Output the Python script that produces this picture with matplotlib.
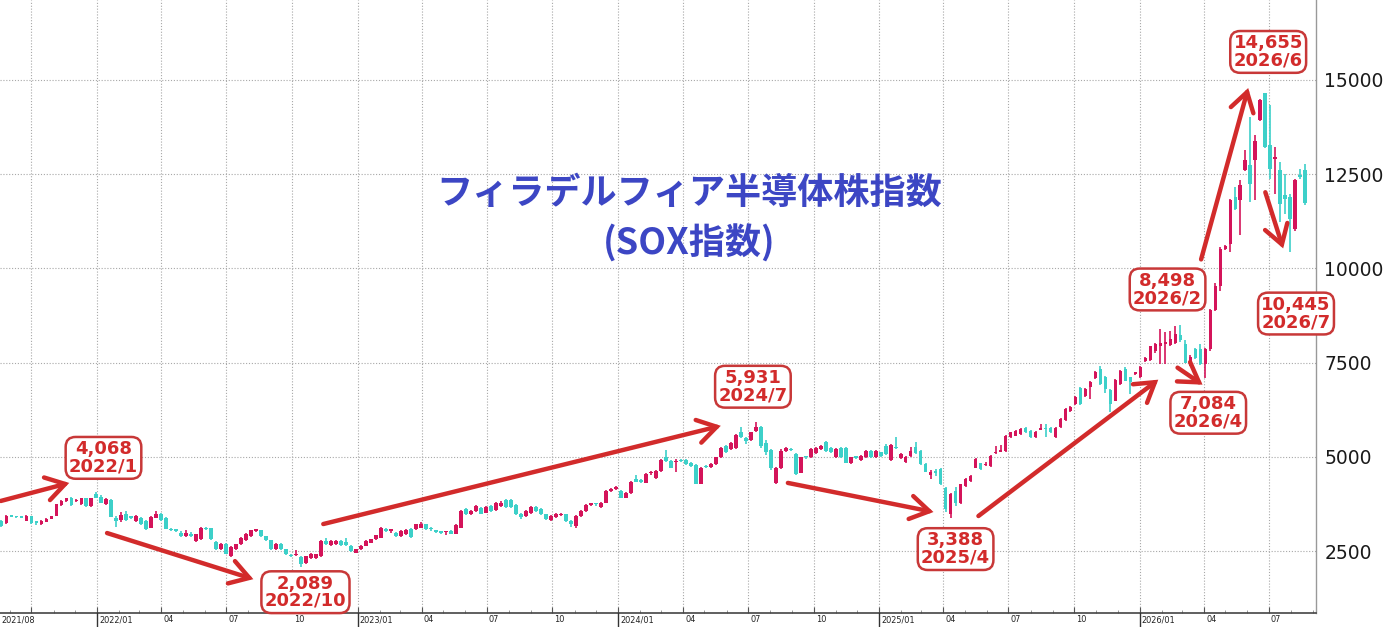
import matplotlib
matplotlib.use('Agg')
import matplotlib.pyplot as plt
import matplotlib.dates as mdates
import numpy as np
import pandas as pd
from matplotlib.patches import FancyArrowPatch
from matplotlib.transforms import blended_transform_factory, ScaledTranslation

# ---------------- data (weekly candles, SOX index) ----------------
first_week = '2021-08-20'
opens = [3300, 3250, 3420, 3410, 3400, 3300, 3430, 3260, 3210, 3280,
         3360, 3430, 3725, 3820, 3900, 3820, 3740, 3900, 3696, 4007,
         3930, 3740, 3856, 3386, 3315, 3474, 3390, 3297, 3386, 3297,
         3120, 3386, 3474, 3386, 3060, 3040, 2987, 2898, 2960, 2765,
         2809, 3090, 3102, 2738, 2561, 2694, 2366, 2543, 2676, 2783,
         2898, 3040, 3049, 2898, 2783, 2543, 2694, 2543, 2380, 2390,
         2339, 2188, 2321, 2304, 2366, 2765, 2658, 2676, 2765, 2738,
         2632, 2454, 2543, 2632, 2720, 2809, 2853, 3040, 3031, 2987,
         2898, 2942, 3075, 3075, 3120, 3208, 3090, 3030, 3010, 3000,
         3031, 2960, 3120, 3607, 3474, 3563, 3652, 3519, 3696, 3581,
         3696, 3850, 3850, 3723, 3492, 3430, 3510, 3670, 3607, 3474,
         3315, 3403, 3450, 3474, 3297, 3164, 3430, 3563, 3730, 3740,
         3670, 3785, 4100, 4150, 4095, 3918, 4033, 4420, 4370, 4317,
         4560, 4450, 4627, 4982, 4894, 4850, 4900, 4911, 4849, 4780,
         4290, 4740, 4734, 4805, 4982, 5293, 5204, 5231, 5648, 5500,
         5443, 5692, 5800, 5373, 5186, 4316, 4707, 5160, 5200, 5080,
         4583, 4990, 4982, 5089, 5204, 5381, 5231, 4982, 5231, 5231,
         4823, 4990, 4911, 4982, 5160, 4982, 5115, 5293, 4911, 5250,
         4960, 4850, 5027, 5250, 5160, 4805, 4521, 4600, 4672, 4184,
         3474, 4095, 3785, 4228, 4361, 4716, 4823, 4780, 4761, 5100,
         5140, 5160, 5514, 5559, 5603, 5754, 5692, 5532, 5720, 5740,
         5763, 5514, 5781, 5976, 6224, 6401, 6827, 6623, 6845, 7093,
         7333, 7129, 6774, 6490, 6934, 7333, 7111, 7200, 7111, 7537,
         7570, 7800, 7930, 8000, 7960, 8010, 8220, 8000, 7420, 7850,
         7850, 7470, 7850, 8885, 9545, 10521, 10654, 11896, 11807, 12605,
         12738, 12870, 13936, 14645, 13270, 12900, 12605, 11940, 11896, 11053,
         12470, 12623]
highs = [3330, 3450, 3450, 3440, 3430, 3450, 3440, 3290, 3310, 3370,
         3440, 3760, 3860, 3920, 3930, 3870, 3920, 3920, 3920, 4068,
         3990, 3900, 3870, 3420, 3530, 3560, 3420, 3450, 3400, 3310,
         3420, 3560, 3500, 3400, 3120, 3070, 3040, 3070, 3000, 2960,
         3140, 3130, 3110, 2760, 2710, 2720, 2620, 2690, 2870, 2970,
         3060, 3070, 3070, 2910, 2800, 2710, 2710, 2560, 2420, 2540,
         2360, 2380, 2440, 2420, 2790, 2840, 2800, 2790, 2800, 2850,
         2650, 2560, 2650, 2780, 2830, 2930, 3130, 3100, 3070, 3010,
         3060, 3080, 3100, 3230, 3280, 3230, 3130, 3060, 3030, 3040,
         3050, 3210, 3590, 3640, 3590, 3720, 3680, 3700, 3720, 3800,
         3820, 3880, 3870, 3740, 3510, 3580, 3690, 3690, 3630, 3490,
         3450, 3500, 3520, 3490, 3310, 3450, 3580, 3740, 3780, 3770,
         3800, 4120, 4180, 4230, 4120, 4070, 4360, 4520, 4400, 4560,
         4620, 4650, 4940, 5180, 4910, 4940, 4940, 4940, 4870, 4800,
         4740, 4770, 4830, 5000, 5250, 5320, 5380, 5610, 5781, 5530,
         5670, 5931, 5830, 5450, 5200, 4720, 5200, 5260, 5230, 5090,
         5000, 5030, 5240, 5260, 5320, 5426, 5250, 5230, 5250, 5260,
         5000, 5020, 5050, 5180, 5180, 5180, 5140, 5330, 5330, 5514,
         5110, 5010, 5250, 5381, 5180, 4830, 4640, 4680, 4700, 4200,
         4050, 4200, 4290, 4440, 4520, 4960, 4840, 4850, 5050, 5293,
         5320, 5580, 5670, 5720, 5760, 5780, 5710, 5690, 5870, 5870,
         5790, 5780, 6030, 6290, 6360, 6620, 6850, 6830, 7020, 7270,
         7400, 7150, 6800, 7060, 7310, 7380, 7130, 7260, 7400, 7650,
         7940, 8030, 8380, 8300, 8350, 8470, 8498, 8110, 7700, 7880,
         8000, 7900, 8920, 9620, 10560, 10620, 11850, 12162, 12339, 13137,
         14007, 13536, 14500, 14655, 14335, 13226, 12827, 12516, 11980, 12383,
         12649, 12783]
lows = [3140, 3230, 3390, 3380, 3370, 3290, 3230, 3200, 3190, 3260,
        3340, 3420, 3700, 3800, 3700, 3790, 3720, 3680, 3680, 3900,
        3770, 3720, 3390, 3137, 3280, 3300, 3350, 3280, 3190, 3050,
        3100, 3370, 3300, 3080, 3020, 3000, 2880, 2880, 2880, 2740,
        2790, 3060, 2790, 2530, 2540, 2410, 2340, 2530, 2660, 2760,
        2880, 3000, 2880, 2770, 2530, 2530, 2530, 2400, 2340, 2370,
        2089, 2150, 2300, 2290, 2350, 2660, 2640, 2660, 2640, 2640,
        2480, 2440, 2530, 2620, 2700, 2790, 2840, 3000, 2990, 2880,
        2880, 2920, 2850, 3060, 3100, 3050, 3040, 2980, 2950, 2930,
        2940, 2940, 3100, 3450, 3450, 3540, 3470, 3500, 3540, 3560,
        3680, 3650, 3650, 3450, 3340, 3410, 3490, 3540, 3450, 3320,
        3290, 3380, 3420, 3280, 3150, 3120, 3410, 3540, 3700, 3700,
        3650, 3770, 4070, 4120, 3900, 3900, 4010, 4320, 4300, 4300,
        4520, 4420, 4600, 4870, 4700, 4610, 4850, 4790, 4720, 4270,
        4270, 4690, 4710, 4790, 4960, 5090, 5180, 5210, 5490, 5340,
        5420, 5660, 5240, 5040, 4640, 4290, 4680, 5140, 5150, 4520,
        4560, 4950, 4960, 5070, 5180, 5140, 5090, 4960, 4960, 4830,
        4800, 4940, 4890, 4960, 4960, 4960, 5000, 5050, 4890, 5200,
        4930, 4830, 5000, 5080, 4780, 4590, 4420, 4500, 4250, 3540,
        3388, 3700, 3760, 4200, 4340, 4690, 4650, 4760, 4740, 5080,
        5120, 5140, 5490, 5540, 5580, 5620, 5490, 5510, 5700, 5520,
        5620, 5490, 5760, 5950, 6200, 6380, 6380, 6600, 6535, 7070,
        6900, 6700, 6180, 6470, 6910, 7000, 6668, 7180, 7090, 7510,
        7540, 7760, 7450, 7450, 7940, 7990, 8060, 7480, 7400, 7600,
        7440, 7084, 7820, 8860, 9400, 10480, 10432, 11550, 10875, 12580,
        11762, 11807, 13900, 13200, 12383, 11984, 11230, 11452, 10445, 11000,
        12380, 11674]
closes = [3165, 3430, 3405, 3400, 3385, 3430, 3253, 3245, 3297, 3360,
          3430, 3740, 3830, 3900, 3714, 3835, 3900, 3696, 3900, 3918,
          3785, 3890, 3403, 3297, 3448, 3324, 3380, 3430, 3208, 3075,
          3403, 3492, 3324, 3093, 3049, 3031, 2898, 2987, 2898, 2942,
          3102, 3075, 2809, 2543, 2694, 2428, 2605, 2676, 2853, 2942,
          3049, 3049, 2898, 2783, 2543, 2694, 2543, 2410, 2366, 2410,
          2144, 2366, 2428, 2410, 2765, 2676, 2765, 2765, 2658, 2658,
          2499, 2543, 2632, 2765, 2809, 2924, 3120, 3031, 3040, 2898,
          3031, 3049, 2871, 3208, 3226, 3075, 3075, 3013, 2987, 3013,
          2960, 3190, 3563, 3474, 3563, 3696, 3492, 3670, 3563, 3785,
          3785, 3670, 3670, 3474, 3403, 3563, 3670, 3563, 3474, 3341,
          3430, 3474, 3465, 3297, 3208, 3430, 3563, 3723, 3740, 3735,
          3785, 4095, 4140, 4184, 3918, 4051, 4344, 4340, 4340, 4539,
          4583, 4627, 4911, 4894, 4716, 4890, 4880, 4805, 4761, 4290,
          4716, 4720, 4805, 4982, 5231, 5115, 5355, 5585, 5514, 5426,
          5648, 5800, 5280, 5115, 4707, 4699, 5160, 5231, 5177, 4550,
          4982, 4982, 5204, 5231, 5293, 5160, 5115, 5204, 4982, 4849,
          4982, 4970, 5027, 5160, 4982, 5160, 5027, 5071, 5310, 5230,
          5071, 4990, 5160, 5100, 4805, 4610, 4610, 4583, 4273, 3607,
          4007, 3785, 4273, 4406, 4494, 4938, 4672, 4805, 5027, 5120,
          5160, 5559, 5647, 5692, 5736, 5647, 5514, 5665, 5740, 5730,
          5647, 5754, 6002, 6268, 6330, 6597, 6401, 6801, 6996, 7244,
          6934, 6801, 6401, 7040, 7288, 7022, 6990, 7230, 7377, 7625,
          7930, 8000, 8010, 8040, 8130, 8264, 8090, 7500, 7660, 7630,
          7470, 7850, 8885, 9545, 10521, 10584, 11807, 11585, 12206, 12870,
          12233, 13377, 14468, 13226, 12650, 12960, 11718, 11851, 11319, 12339,
          12428, 11736]

y_ticks = [2500, 5000, 7500, 10000, 12500, 15000]
quarter_ticks = ['2021-10-01', '2022-01-01', '2022-04-01', '2022-07-01', '2022-10-01',
                 '2023-01-01', '2023-04-01', '2023-07-01', '2023-10-01',
                 '2024-01-01', '2024-04-01', '2024-07-01', '2024-10-01',
                 '2025-01-01', '2025-04-01', '2025-07-01', '2025-10-01',
                 '2026-01-01', '2026-04-01', '2026-07-01']
quarter_labels = ['', '2022/01', '04', '07', '10', '2023/01', '04', '07', '10',
                  '2024/01', '04', '07', '10', '2025/01', '04', '07', '10',
                  '2026/01', '04', '07']
year_starts = ['2022-01-01', '2023-01-01', '2024-01-01', '2025-01-01', '2026-01-01']
first_label = '2021/08'

title_text = 'フィラデルフィア半導体株指数\n(SOX指数)'

# callout boxes: (date, value, text)
box_dates = ['2022-01-10', '2022-10-20', '2024-07-08', '2025-04-18',
             '2026-02-09', '2026-04-07', '2026-06-30', '2026-08-08']
box_values = [4972, 1407, 6860, 2551, 9441, 6169, 15745, 8802]
box_texts = ['4,068\n2022/1', '2,089\n2022/10', '5,931\n2024/7', '3,388\n2025/4',
             '8,498\n2026/2', '7,084\n2026/4', '14,655\n2026/6', '10,445\n2026/7']

# arrows: tail (date, value) -> head (date, value)
arrow_tail_dates = ['2021-08-19', '2022-01-15', '2022-11-14', '2024-08-26',
                    '2025-05-20', '2026-02-23', '2026-03-28', '2026-06-26']
arrow_tail_values = [3828, 2977, 3216, 4307, 3429, 7366, 10239, 12021]
arrow_head_dates = ['2021-11-23', '2022-08-08', '2024-05-24', '2025-03-18',
                    '2026-01-27', '2026-03-30', '2026-06-02', '2026-07-21']
arrow_head_values = [4307, 1753, 5823, 3535, 7047, 6914, 14787, 10531]

# ---------------- styling ----------------
UP = '#D4145A'
DOWN = '#3DD0C9'
RED = '#D22B2B'
BOX_RED = '#C83838'
TITLE_BLUE = '#3C46C4'
GRID = '#A8A8A8'

W, H = 1386, 627
fig = plt.figure(figsize=(W / 100, H / 100), dpi=100)
ax_bottom = (H - 613) / H
ax = fig.add_axes([0, ax_bottom, 1316 / W, 1 - ax_bottom])

dates = pd.date_range(first_week, periods=len(closes), freq='7D')
xd = mdates.date2num(dates)
o = np.array(opens, float)
h = np.array(highs, float)
l = np.array(lows, float)
c = np.array(closes, float)
up = c >= o
cols = np.where(up, UP, DOWN)

ax.vlines(xd, l, h, colors=cols, linewidth=1.2, zorder=3)
body_lo = np.minimum(o, c)
body_h = np.maximum(np.abs(c - o), 40)
ax.bar(xd, body_h, bottom=body_lo, width=5.2, color=cols, linewidth=0, zorder=4)

ax.set_xlim(mdates.date2num(pd.Timestamp('2021-08-18')),
            mdates.date2num(pd.Timestamp('2026-09-05')))
ax.set_ylim(855, 17123)

# grid
ax.set_yticks(y_ticks)
ax.set_xticks(mdates.date2num(pd.to_datetime(quarter_ticks)))
ax.set_xticklabels(quarter_labels)
ax.xaxis.set_minor_locator(mdates.MonthLocator())
ax.grid(True, which='major', color=GRID, linestyle=(0, (1, 1.6)), linewidth=0.8)
ax.set_axisbelow(True)

ax.yaxis.tick_right()
ax.tick_params(axis='y', which='both', length=0, pad=6, labelsize=13.5, labelcolor='#1a1a1a')
ax.tick_params(axis='x', which='major', direction='in', length=4, pad=1.5,
               labelsize=5.9, labelcolor='#222222', color='#555555')
ax.tick_params(axis='x', which='minor', direction='in', length=2.5, color='#888888')
offset = ScaledTranslation(1.5 / 72, 0, fig.dpi_scale_trans)
for lab in ax.get_xticklabels():
    lab.set_horizontalalignment('left')
    lab.set_transform(lab.get_transform() + offset)

for s in ['top', 'left']:
    ax.spines[s].set_visible(False)
ax.spines['right'].set_color('#999999')
ax.spines['right'].set_linewidth(1.0)
ax.spines['bottom'].set_color('#444444')
ax.spines['bottom'].set_linewidth(1.2)

btrans = blended_transform_factory(ax.transData, ax.transAxes)
for ys in year_starts:
    xv = mdates.date2num(pd.Timestamp(ys))
    ax.plot([xv, xv], [0, -0.025], transform=btrans, color='#333333',
            linewidth=1.0, clip_on=False, zorder=5)
ax.text(0.001, -0.004, first_label, transform=ax.transAxes, fontsize=5.9,
        color='#222222', ha='left', va='top')

# title
ax.text(0.524, 0.643, title_text, transform=ax.transAxes, ha='center', va='center',
        fontsize=26, fontweight='bold', color=TITLE_BLUE, linespacing=1.42,
        family=['Noto Sans CJK JP', 'DejaVu Sans'], zorder=6)

# arrows
for td, tv, hd, hv in zip(arrow_tail_dates, arrow_tail_values, arrow_head_dates, arrow_head_values):
    p0 = (mdates.date2num(pd.Timestamp(td)), tv)
    p1 = (mdates.date2num(pd.Timestamp(hd)), hv)
    arr = FancyArrowPatch(p0, p1, arrowstyle='->,head_length=0.45,head_width=0.28',
                          mutation_scale=30, linewidth=3.2, color=RED,
                          shrinkA=0, shrinkB=0, zorder=7, clip_on=False,
                          capstyle='round', joinstyle='miter')
    ax.add_patch(arr)

# callout boxes
for bd, bv, bt in zip(box_dates, box_values, box_texts):
    ax.text(mdates.date2num(pd.Timestamp(bd)), bv, bt, ha='center', va='center',
            fontsize=13, fontweight='bold', color=RED, linespacing=0.95,
            family='DejaVu Sans', zorder=8, clip_on=False,
            bbox=dict(boxstyle='round,pad=0.18,rounding_size=0.55', fc='white',
                      ec=BOX_RED, lw=1.8))

fig.savefig('out.png', dpi=100)
